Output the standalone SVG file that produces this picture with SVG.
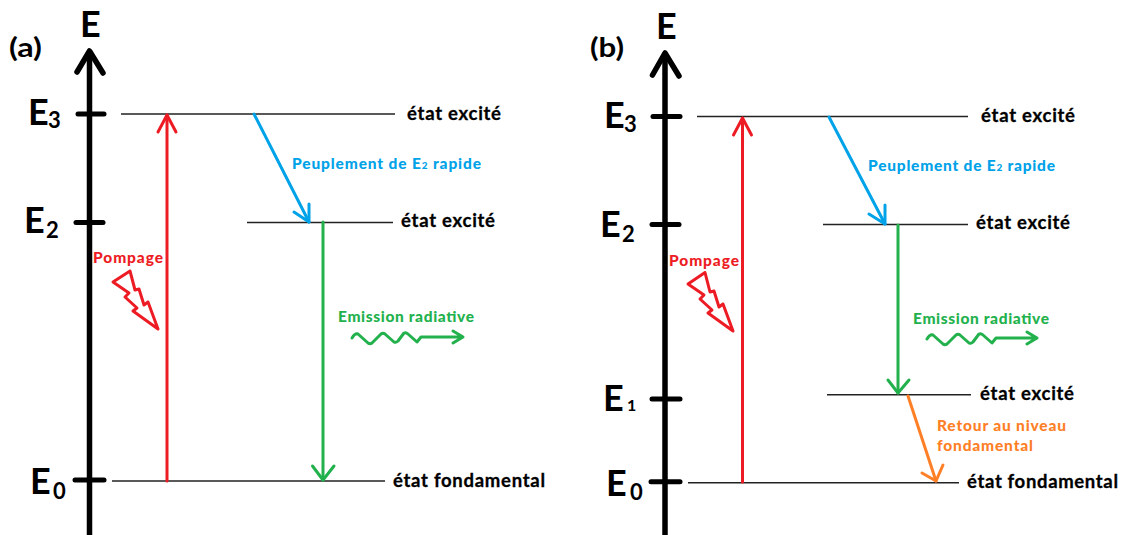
<svg xmlns="http://www.w3.org/2000/svg" width="1123" height="535" viewBox="0 0 1123 535">
<style>
text{font-family:"Lato","Open Sans","Liberation Sans",sans-serif;font-weight:900;fill:#000}
.e{font-size:36px;font-weight:700}.s{font-size:22px;font-weight:700}.p{font-size:27px;font-weight:700}.l{font-size:18.500px;font-weight:700;stroke:#000;stroke-width:.3}.c{font-size:15.500px}
.R{fill:#ed1c24}.B{fill:#00a2e8}.G{fill:#22b14c}.O{fill:#ff7f27}
path,line,polyline,polygon{fill:none;stroke-linecap:round;stroke-linejoin:round}
.ax{stroke:#000;stroke-width:5.5}.tk{stroke:#000;stroke-width:5}
.lv{stroke:#222;stroke-width:1.6;stroke-linecap:butt}
.r{stroke:#ed1c24;stroke-width:3}.bl{stroke:#00a2e8;stroke-width:3}.g{stroke:#22b14c;stroke-width:3}.o{stroke:#ff7f27;stroke-width:3}
</style>
<rect width="1123" height="535" fill="#fff"/>
<g id="connectors">
<g id="a-connectors">
<line class="ax" x1="89.5" y1="52" x2="89.5" y2="535" style="stroke-linecap:butt"/>
<polyline class="ax" points="77,72 89.5,51 103,73"/>
<line class="tk" x1="78" y1="114" x2="104" y2="114"/>
<line class="tk" x1="76" y1="222.5" x2="103" y2="222.5"/>
<line class="tk" x1="75" y1="480" x2="104" y2="480"/>
<line class="lv" x1="121" y1="114" x2="395" y2="114"/>
<line class="lv" x1="247" y1="222.5" x2="393" y2="222.5"/>
<line class="lv" x1="112" y1="481" x2="385" y2="481"/>
<line class="r" x1="167" y1="481" x2="167" y2="115"/>
<polyline class="r" points="158,132 167,115 176,132"/>
<line class="bl" x1="254" y1="114" x2="309" y2="222"/>
<polyline class="bl" points="294,212 309,222 309,204"/>
<line class="g" x1="323" y1="222" x2="323" y2="480"/>
<polyline class="g" points="312.500,466 323,480 334,466"/>
<path class="g" d="M352 338Q355 333 358 334L368 343Q370 344.500 372 343L381 334Q383 332.500 385 334L394 342Q396 343 398 341L404 333Q406 332 408 334L417 342L421 337L463 337M453 331L463 337L453 343"/>
<polygon class="r" points="130,271 113,282 129,293 125,297 137,308 133,311 158,329 148,302 144,305 139,289 135,290"/>
</g>
<g id="b-connectors">
<line class="ax" x1="665" y1="54" x2="665" y2="535" style="stroke-linecap:butt"/>
<polyline class="ax" points="652.500,75 665,53 679,76"/>
<line class="tk" x1="653" y1="116.500" x2="680" y2="116.500"/>
<line class="tk" x1="652" y1="224.500" x2="679" y2="224.500"/>
<line class="tk" x1="652" y1="399" x2="680" y2="399"/>
<line class="tk" x1="651" y1="481.700" x2="680" y2="481.700"/>
<line class="lv" x1="697" y1="116.500" x2="968" y2="116.500"/>
<line class="lv" x1="823" y1="224.500" x2="968" y2="224.500"/>
<line class="lv" x1="827" y1="394.700" x2="971" y2="394.700"/>
<line class="lv" x1="688" y1="482.700" x2="959" y2="482.700"/>
<line class="r" x1="742.500" y1="482" x2="742.500" y2="118"/>
<polyline class="r" points="733.500,135 742.500,118 751.500,135"/>
<line class="bl" x1="829" y1="117" x2="885" y2="224"/>
<polyline class="bl" points="869,214 885,224 885,205"/>
<line class="g" x1="898" y1="225" x2="898" y2="393"/>
<polyline class="g" points="888,380 898,393 909,380"/>
<line class="o" x1="908" y1="396" x2="936" y2="481"/>
<polyline class="o" points="922,473 936,481 943,465"/>
<path class="g" d="M927 339Q930 334 933 335L943 344Q945 345.500 947 344L956 335Q958 333.500 960 335L969 343Q971 344 973 342L979 334Q981 333 983 335L992 343L996 338L1037 338M1027 332L1037 338L1027 344"/>
<polygon class="r" points="705,272.500 688,284 704,295 700,299 712,310 708,313 733,331 723,304 719,307 714,291 710,292"/>
</g>
</g>
<g id="a-label"><text class="p" x="9" y="57" textLength="33" lengthAdjust="spacingAndGlyphs">(a)</text></g>
<g id="a-axis-label"><text class="e" x="80" y="37">E</text></g>
<g id="a-E3"><text class="e" x="28" y="125">E</text><text class="s" x="48" y="128">3</text></g>
<g id="a-E2"><text class="e" x="24" y="233">E</text><text class="s" x="46" y="238">2</text></g>
<g id="a-E0"><text class="e" x="30" y="494">E</text><text class="s" x="53" y="499">0</text></g>
<g id="a-level3"><text class="l" x="407" y="120" textLength="94">état excité</text></g>
<g id="a-level2"><text class="l" x="401" y="227" textLength="94">état excité</text></g>
<g id="a-level0"><text class="l" x="393" y="487" textLength="152">état fondamental</text></g>
<g id="a-pompage"><text class="c R" x="93" y="263" textLength="70">Pompage</text></g>
<g id="a-peuplement"><text class="c B" x="292" y="169" textLength="189">Peuplement de E<tspan font-size="10">2</tspan> rapide</text></g>
<g id="a-emission"><text class="c G" x="338" y="322" textLength="136">Emission radiative</text></g>
<g id="b-label"><text class="p" x="590" y="57" textLength="34" lengthAdjust="spacingAndGlyphs">(b)</text></g>
<g id="b-axis-label"><text class="e" x="656" y="39">E</text></g>
<g id="b-E3"><text class="e" x="604" y="128">E</text><text class="s" x="624" y="132">3</text></g>
<g id="b-E2"><text class="e" x="600" y="237">E</text><text class="s" x="622" y="242">2</text></g>
<g id="b-E1"><text class="e" x="603" y="411">E</text><text class="s" x="627" y="411" style="font-size:16px">1</text></g>
<g id="b-E0"><text class="e" x="606" y="496">E</text><text class="s" x="630" y="500">0</text></g>
<g id="b-level3"><text class="l" x="981" y="122" textLength="94">état excité</text></g>
<g id="b-level2"><text class="l" x="976" y="229" textLength="94">état excité</text></g>
<g id="b-level1"><text class="l" x="980" y="400" textLength="94">état excité</text></g>
<g id="b-level0"><text class="l" x="967" y="488" textLength="151">état fondamental</text></g>
<g id="b-pompage"><text class="c R" x="669" y="266" textLength="70">Pompage</text></g>
<g id="b-peuplement"><text class="c B" x="868" y="171" textLength="187">Peuplement de E<tspan font-size="10">2</tspan> rapide</text></g>
<g id="b-emission"><text class="c G" x="913" y="324" textLength="136">Emission radiative</text></g>
<g id="b-retour"><text class="c O" x="937" y="431" textLength="129">Retour au niveau</text><text class="c O" x="937" y="451" textLength="96">fondamental</text></g>
</svg>
